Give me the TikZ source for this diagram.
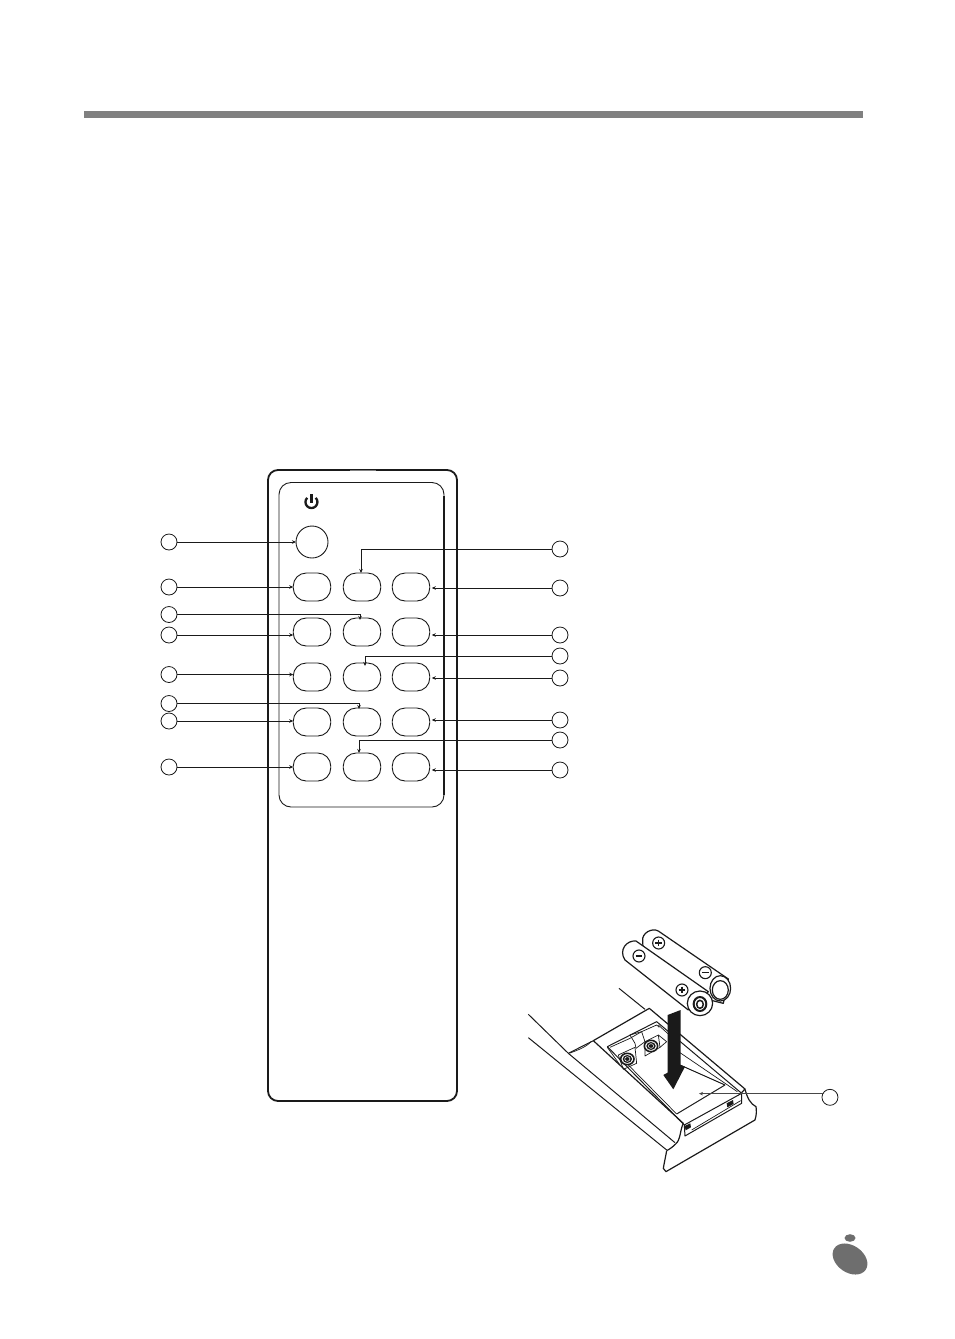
\documentclass[tikz,border=0pt]{standalone}
\usetikzlibrary{arrows.meta}
\definecolor{barg}{HTML}{808080}
\definecolor{logog}{HTML}{6E6E6E}
\definecolor{ink}{HTML}{1A1A1A}
\tikzset{
  callout/.style={circle,draw=ink,line width=.8pt,fill=white,minimum size=16pt,inner sep=0pt,outer sep=0pt},
  keybtn/.style={rectangle,rounded corners=13pt,draw=ink,line width=.9pt,minimum width=37.5pt,minimum height=28pt,inner sep=0pt,outer sep=0pt},
  conn/.style={draw=ink,line width=.8pt,-{Stealth[length=4pt,width=3.5pt]}},
  fig/.style={draw=ink,line width=1pt,line join=round},
  figthin/.style={draw=ink,line width=.7pt,line join=round},
}
\begin{document}
\begin{tikzpicture}[x=1pt,y=-1pt]
\useasboundingbox (0,0) rectangle (954,1339);
\fill[barg] (84,111) rectangle (863,118);
% remote
\draw[ink,line width=1.8pt,rounded corners=10pt] (268,470) rectangle (457,1101);
\draw[barg,line width=1pt] (350,470.5) -- (376,470.5);
\draw[ink,line width=.9pt,rounded corners=12pt] (279,482.5) rectangle (444,807);
\draw[ink,line width=1.5pt] (444,496) -- (444,795);
% power symbol
\draw[ink,line width=2.3pt] (307.2,497.8) arc[start angle=225,end angle=-45,radius=6];
\draw[ink,line width=2.3pt] (311.5,494) -- (311.5,503);
% buttons
\node[circle,draw=ink,line width=.9pt,minimum size=32pt,inner sep=0pt,outer sep=0pt] (pw) at (312,542) {};
\foreach \r/\yy in {1/587,2/632,3/677,4/722,5/767}{
  \node[keybtn] (a\r) at (312,\yy) {};
  \node[keybtn] (b\r) at (362,\yy) {};
  \node[keybtn] (c\r) at (411,\yy) {};
}
% left callouts
\node[callout] (L1) at (169,542) {};
\node[callout] (L2) at (169,587) {};
\node[callout] (L3) at (169,614.5) {};
\node[callout] (L4) at (169,635) {};
\node[callout] (L5) at (169,674.5) {};
\node[callout] (L6) at (169,703.5) {};
\node[callout] (L7) at (169,721) {};
\node[callout] (L8) at (169,767) {};
% right callouts
\node[callout] (R1) at (560,549) {};
\node[callout] (R2) at (560,588) {};
\node[callout] (R3) at (560,635) {};
\node[callout] (R4) at (560,656) {};
\node[callout] (R5) at (560,678) {};
\node[callout] (R6) at (560,720) {};
\node[callout] (R7) at (560,740) {};
\node[callout] (R8) at (560,770) {};
% connectors
\draw[conn] (L1.east) -- (L1.east -| pw.west);
\draw[conn] (L2.east) -- (L2.east -| a1.west);
\draw[conn] (L3.east) -| ([xshift=-2pt,yshift=-2pt]b2.north);
\draw[conn] (L4.east) -- (L4.east -| a2.west);
\draw[conn] (L5.east) -- (L5.east -| a3.west);
\draw[conn] (L6.east) -| ([xshift=-3pt,yshift=-1pt]b4.north);
\draw[conn] (L7.east) -- (L7.east -| a4.west);
\draw[conn] (L8.east) -- (L8.east -| a5.west);
\draw[conn] (R1.west) -| ([xshift=-1pt]b1.north);
\draw[conn] (R2.west) -- ([xshift=2pt]R2.west -| c1.east);
\draw[conn] (R3.west) -- ([xshift=2pt]R3.west -| c2.east);
\draw[conn] (R4.west) -| ([xshift=3pt,yshift=-3pt]b3.north);
\draw[conn] (R5.west) -- ([xshift=2pt]R5.west -| c3.east);
\draw[conn] (R6.west) -- ([xshift=2pt]R6.west -| c4.east);
\draw[conn] (R7.west) -| ([xshift=-3pt]b5.north);
\draw[conn] (R8.west) -- ([xshift=2pt]R8.west -| c5.east);
% battery figure, in coordinates of a 3x crop
\begin{scope}[shift={(510,910)},x=.3333pt,y=-.3333pt]
 % body outline
 \draw[fig] (55,313) -- (175,430) -- (495,698);
 \draw[fig] (55,383) -- (470,720);
 \draw[fig] (327,235) -- (405,298);
 \draw[fig] (175,430) -- (250,392);
 \draw[figthin] (180,429) .. controls (205,420) and (230,410) .. (243,395);
 \draw[fig,line width=1.2pt] (250,392) -- (418,295) -- (705,537);
 \draw[fig,line width=1.2pt] (250,392) -- (520,640);
 \draw[fig,line width=1.2pt] (520,640) .. controls (510,660) and (512,690) .. (497,702) .. controls (487,712) and (478,718) .. (470,722);
 \draw[fig,line width=1.2pt] (470,722) .. controls (466,745) and (462,762) .. (460,775) -- (468,785) -- (735,630) .. controls (740,615) and (740,600) .. (738,590) .. controls (722,582) and (712,565) .. (705,537) -- (695,548);
 % compartment
 \draw[fig] (292,410) -- (440,335) -- (695,550);
 \draw[figthin] (510,428) -- (682,545);
 \draw[fig] (292,410) -- (523,645);
 \draw[figthin] (292,412) -- (330,465);
 \draw[figthin] (355,465) -- (500,612);
 \draw[fig] (500,612) -- (645,525) -- (510,465);
 \draw[fig,fill=white] (523,645) -- (695,550) -- (695,580) -- (525,678) -- cycle;
 \draw[figthin] (545,660) -- (692,572);
 \fill[ink] (524,648) -- (541,640) -- (543,652) -- (527,661) -- cycle;
 \fill[ink] (650,580) -- (669,570) -- (671,582) -- (652,592) -- cycle;
 % terminals
 \draw[figthin] (300,412) -- (360,385) -- (395,365) -- (440,345) -- (448,352);
 \draw[figthin] (360,375) -- (395,365) -- (405,395) -- (378,415);
 \draw[figthin] (360,375) -- (375,400) -- (378,415);
 \draw[figthin] (325,435) -- (375,412) -- (380,460) -- (340,478) -- cycle;
 \draw[figthin] (405,395) -- (445,375) -- (450,412) -- (405,438) -- cycle;
 \draw[figthin] (450,412) -- (470,395) -- (445,375);
 \draw[figthin] (445,345) -- (475,372);
 \foreach \cx/\cy in {352/447,423/408}{
   \draw[ink,line width=1.6pt,fill=white] (\cx,\cy) ellipse[x radius=20,y radius=17];
   \fill[ink] (\cx,\cy) ellipse[x radius=14,y radius=12];
   \draw[white,line width=.5pt] (\cx,\cy) ellipse[x radius=8,y radius=7];
 }
 % insertion arrow
 \fill[ink] (473,315) -- (512,300) -- (512,465) -- (525,470) -- (490,538) -- (460,495) -- (473,488) -- cycle;
 % batteries
 \draw[fig,line width=1.2pt,fill=white] (398,92) .. controls (395,70) and (425,52) .. (445,63) -- (655,207) -- (640,280) -- (600,270) -- (400,130) -- cycle;
 \draw[fig,line width=1.2pt,fill=white] (631,235) ellipse[x radius=31,y radius=38];
 \draw[fig,line width=1.2pt,fill=white] (631,240) ellipse[x radius=24,y radius=28];
 \draw[fig,line width=1.2pt,fill=white] (378,93) .. controls (350,90) and (325,120) .. (345,150) -- (535,300) -- (595,245) -- cycle;
 \draw[fig,line width=1.2pt,fill=white] (570,280) ellipse[x radius=38,y radius=37];
 \draw[ink,line width=2pt,fill=white] (570,282) ellipse[x radius=19,y radius=21];
 \draw[ink,line width=1.5pt,fill=white] (570,283) ellipse[x radius=10,y radius=12];
 % signs
 \foreach \cx/\cy/\pl in {387/138/0,446/99/1,586/188/0,516/240/1}{
   \draw[ink,line width=1.1pt] (\cx,\cy) circle[radius=18];
   \draw[ink,line width=1.4pt] (\cx-10,\cy) -- (\cx+10,\cy);
   \ifnum\pl=1 \draw[ink,line width=1.4pt] (\cx,\cy-10) -- (\cx,\cy+10); \fi
 }
 \node[callout] (Rb) at (960,562) {};
 \coordinate (Rbt) at (567,551);
 \draw[conn,draw=ink!80] (Rb.north west |- 0,551) -- (Rbt);
\end{scope}
% logo
\fill[logog] (850,1238) ellipse[x radius=5.5,y radius=3.8];
\fill[logog,rotate around={-35:(850,1259)}] (850,1259) ellipse[x radius=19,y radius=13.5];
\end{tikzpicture}
\end{document}
